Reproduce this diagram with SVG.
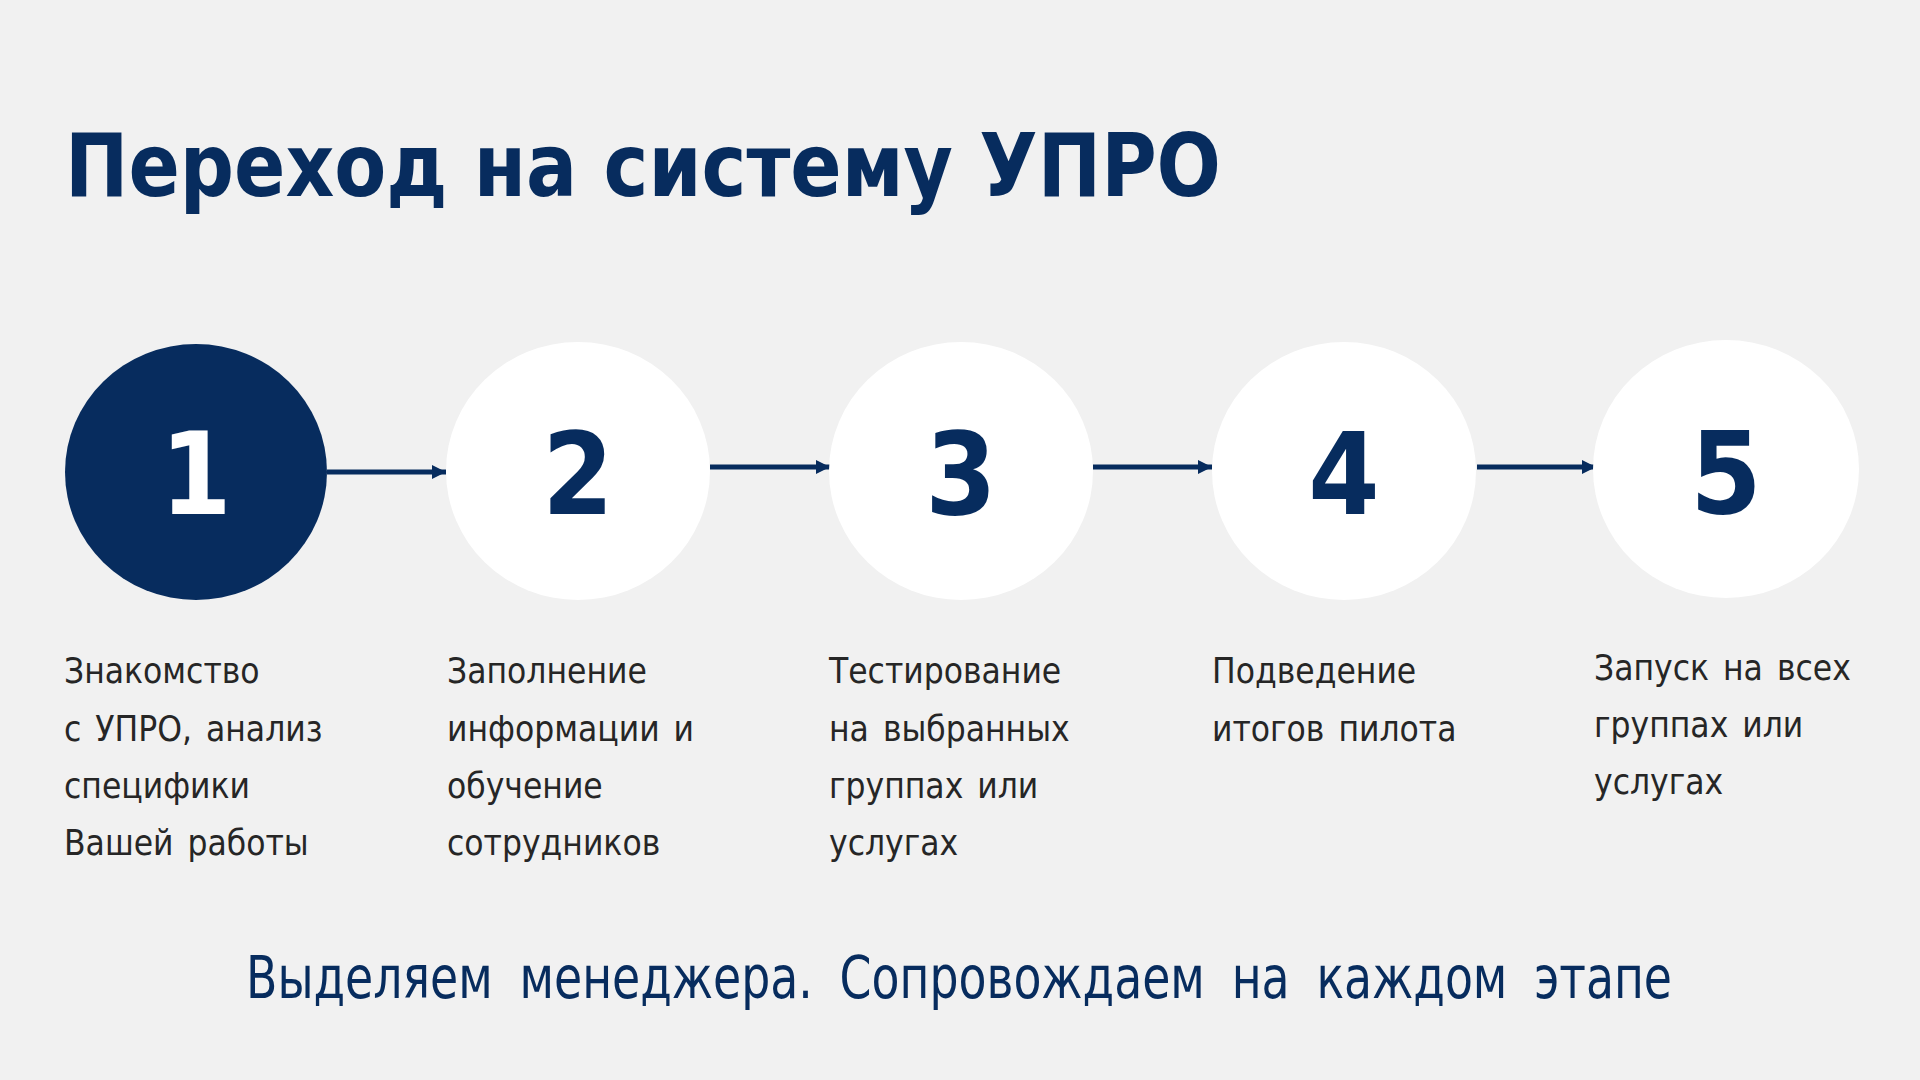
<svg xmlns="http://www.w3.org/2000/svg" width="1920" height="1080" viewBox="0 0 1920 1080">
  <defs>
    <marker id="ah" viewBox="0 0 14 14" refX="14" refY="7" markerWidth="14" markerHeight="14" markerUnits="userSpaceOnUse" orient="auto">
      <path d="M0,0 L14,7 L0,14 Z" fill="#072c5e"/>
    </marker>
  </defs>
  <style>
    .title { font-family: 'DejaVu Sans Condensed', 'DejaVu Sans', sans-serif; font-stretch: condensed; font-weight: bold; font-size: 87px; fill: #072c5e; }
    .num { font-family: 'DejaVu Sans Condensed', 'DejaVu Sans', sans-serif; font-stretch: condensed; font-weight: bold; font-size: 114px; fill: #072c5e; text-anchor: middle; }
    .body { font-family: 'DejaVu Sans Condensed', 'DejaVu Sans', sans-serif; font-stretch: condensed; font-size: 35px; fill: #262626; word-spacing: 4px; }
    .foot { font-family: 'DejaVu Sans Condensed', 'DejaVu Sans', sans-serif; font-stretch: condensed; font-size: 58px; fill: #072c5e; word-spacing: 14px; }
    .circ { fill: #ffffff; }
    .conn { stroke: #072c5e; stroke-width: 5; fill: none; marker-end: url(#ah); }
  </style>
  <rect x="0" y="0" width="1920" height="1080" fill="#f1f1f1"/>
  <text class="title" x="65" y="196" textLength="1156" lengthAdjust="spacingAndGlyphs">Переход на систему УПРО</text>

  <g id="connectors">
    <line class="conn" x1="327" y1="472" x2="446" y2="472"/>
    <line class="conn" x1="710" y1="467" x2="830" y2="467"/>
    <line class="conn" x1="1093" y1="467" x2="1212" y2="467"/>
    <line class="conn" x1="1477" y1="467" x2="1596" y2="467"/>
  </g>

  <g id="step1">
    <ellipse cx="196" cy="472" rx="131" ry="128" fill="#072c5e"/>
    <text class="num" x="196" y="514" style="fill:#ffffff">1</text>
    <text class="body" x="64" y="683">Знакомство</text>
    <text class="body" x="64" y="741">с УПРО, анализ</text>
    <text class="body" x="64" y="798">специфики</text>
    <text class="body" x="64" y="855">Вашей работы</text>
  </g>
  <g id="step2">
    <ellipse class="circ" cx="578" cy="471" rx="132" ry="129"/>
    <text class="num" x="578" y="514">2</text>
    <text class="body" x="447" y="683">Заполнение</text>
    <text class="body" x="447" y="741">информации и</text>
    <text class="body" x="447" y="798">обучение</text>
    <text class="body" x="447" y="855">сотрудников</text>
  </g>
  <g id="step3">
    <ellipse class="circ" cx="961" cy="471" rx="132" ry="129"/>
    <text class="num" x="961" y="514">3</text>
    <text class="body" x="829" y="683">Тестирование</text>
    <text class="body" x="829" y="741">на выбранных</text>
    <text class="body" x="829" y="798">группах или</text>
    <text class="body" x="829" y="855">услугах</text>
  </g>
  <g id="step4">
    <ellipse class="circ" cx="1344" cy="471" rx="132" ry="129"/>
    <text class="num" x="1344" y="514">4</text>
    <text class="body" x="1212" y="683">Подведение</text>
    <text class="body" x="1212" y="741">итогов пилота</text>
  </g>
  <g id="step5">
    <ellipse class="circ" cx="1726" cy="469" rx="133" ry="129"/>
    <text class="num" x="1726" y="513">5</text>
    <text class="body" x="1594" y="680">Запуск на всех</text>
    <text class="body" x="1594" y="737">группах или</text>
    <text class="body" x="1594" y="794">услугах</text>
  </g>

  <text class="foot" x="246" y="998" textLength="1426" lengthAdjust="spacingAndGlyphs">Выделяем менеджера. Сопровождаем на каждом этапе</text>
</svg>
